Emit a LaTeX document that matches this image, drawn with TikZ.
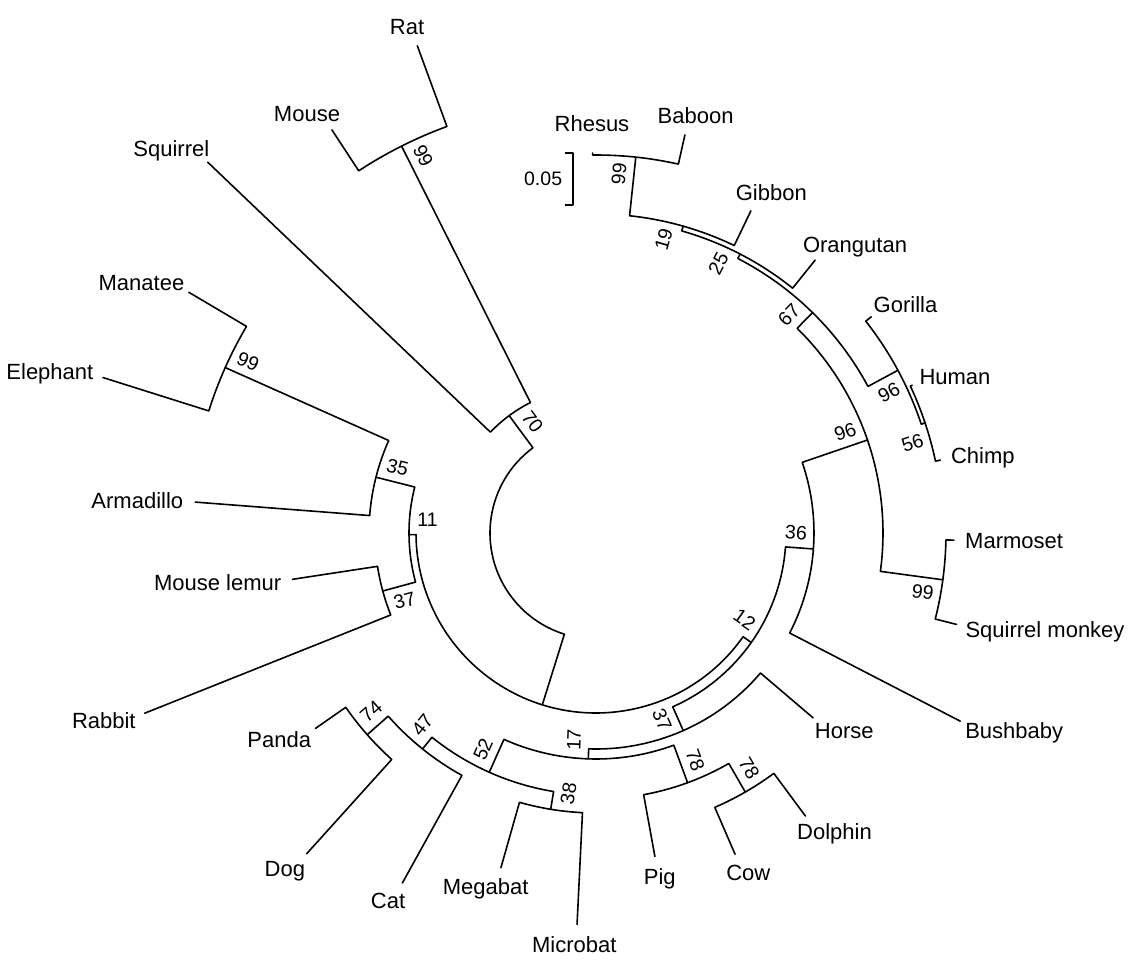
\documentclass[tikz,border=0pt]{standalone}
\usepackage{fontspec}
\setmainfont{Liberation Sans}
\usetikzlibrary{calc}

\begin{document}
\begin{tikzpicture}[x=1pt,y=1pt]
	\tikzstyle{branch}=[line width=1.6pt, line cap=round, line join=round]
	\tikzstyle{taxon}=[inner sep=0pt, font=\fontsize{22}{26}\selectfont]
	\tikzstyle{support}=[inner sep=0pt, font=\fontsize{19.5}{23}\selectfont]

	\useasboundingbox (-596,-443) rectangle (534,533);

	% Tips: name/angle/base radius/radius
	\foreach \n/\a/\b/\r in {Rhesus/90.5/378/380, Baboon/77.41/378/408,
		Gibbon/64.32/319/357.5, Orangutan/51.23/314/350, Gorilla/38.14/343/350,
		Human/25.05/347/349, Chimp/11.95/347/352, Marmoset/-1.14/350/358,
		SqMonkey/-14.23/350/372, Bushbaby/-27.32/218/410, Horse/-40.41/216/285,
		Dolphin/-53.5/299/352, Cow/-66.59/299/350, Pig/-79.68/266/329,
		Microbat/-92.77/280/392, Megabat/-105.86/280/348, Cat/-118.95/277/400,
		Dog/-132.05/305/432, Panda/-145.14/305/342, Rabbit/201.77/221/486,
		MouseLemur/188.68/221/307, Armadillo/175.59/227/402, Elephant/162.5/406/517,
		Manatee/149.41/406/473, Squirrel/136.32/146/537, Mouse/123.23/433/482,
		Rat/110.14/433/519}{
		\coordinate (\n-b) at (\a:\b);
		\coordinate (\n) at (\a:\r);
	}

	% Inner nodes: name/angle/base radius/radius
	\foreach \n/\a/\b/\r in {n99a/83.955/319/378, n19/74.14/314/319, n25/62.68/309/314,
		nHC/18.5/343/347, nG/28.32/309/343, n67/45.5/287/309, nNW/-7.685/287/350,
		n96b/18.91/218/287, n36/-4.205/190/218, nCD/-60.045/266/299, nP/-69.86/226/266,
		n38/-99.315/262/280, n74/-138.6/277/305, n47/-128.77/262/277, n52/-114.04/226/262,
		n17/-91.95/216/226, n37/-66.18/190/216, n12/-35.19/180/190, n37b/195.22/187/221,
		n99e/155.955/227/406, n35/165.77/187/227, n11/180.5/180/187, X/252.65/106/180,
		n99m/116.685/146/433, n70/126.5/106/146}{
		\coordinate (\n-b) at (\a:\b);
		\coordinate (\n) at (\a:\r);
	}

	%----------------------------------------------------%
	%        clades: child/angle/child/angle/radius       %
	%----------------------------------------------------%
	\foreach \c/\p/\d/\q/\r in {Rhesus/90.5/Baboon/77.41/378, n99a/83.955/Gibbon/64.32/319,
		n19/74.14/Orangutan/51.23/314, Human/25.05/Chimp/11.95/347,
		Gorilla/38.14/nHC/18.5/343, n25/62.68/nG/28.32/309,
		Marmoset/-1.14/SqMonkey/-14.23/350, n67/45.5/nNW/-7.685/287,
		n96b/18.91/Bushbaby/-27.32/218, Dolphin/-53.5/Cow/-66.59/299,
		nCD/-60.045/Pig/-79.68/266, Microbat/-92.77/Megabat/-105.86/280,
		Dog/-132.05/Panda/-145.14/305, Cat/-118.95/n74/-138.6/277,
		n38/-99.315/n47/-128.77/262, nP/-69.86/n52/-114.04/226,
		Horse/-40.41/n17/-91.95/216, n36/-4.205/n37/-66.18/190,
		Rabbit/201.77/MouseLemur/188.68/221, Elephant/162.5/Manatee/149.41/406,
		Armadillo/175.59/n99e/155.955/227, n37b/195.22/n35/165.77/187,
		n12/-35.19/n11/-179.5/180, Mouse/123.23/Rat/110.14/433,
		Squirrel/136.32/n99m/116.685/146, n70/126.5/X/252.65/106}
		\draw[branch] (\c) -- (\c-b) arc[start angle=\p, end angle=\q, radius=\r pt] -- (\d);

	% Taxon names: tip/angle/gap/name
	\foreach \n/\a/\g/\t in {Rhesus/90.5/22/Rhesus, Baboon/77.41/12/Baboon, Gibbon/64.32/12/Gibbon,
		Orangutan/51.23/12/Orangutan, Gorilla/38.14/12/Gorilla, Human/25.05/12/Human,
		Chimp/11.95/12/Chimp, Marmoset/-1.14/12/Marmoset, SqMonkey/-14.23/12/Squirrel monkey,
		Bushbaby/-27.32/12/Bushbaby, Horse/-40.41/12/Horse, Dolphin/-53.5/12/Dolphin,
		Cow/-66.59/12/Cow, Pig/-79.68/12/Pig, Microbat/-92.77/12/Microbat,
		Megabat/-105.86/12/Megabat, Cat/-118.95/12/Cat, Dog/-132.05/12/Dog,
		Panda/-145.14/12/Panda, Rabbit/201.77/12/Rabbit, MouseLemur/188.68/12/Mouse lemur,
		Armadillo/175.59/12/Armadillo, Elephant/162.5/12/Elephant, Manatee/149.41/12/Manatee,
		Squirrel/136.32/12/Squirrel, Mouse/123.23/12/Mouse, Rat/110.14/12/Rat}{
		\pgfmathsetmacro\fx{(1-cos(\a))/2}
		\pgfmathsetmacro\fy{(1-sin(\a))/2}
		\node[taxon, anchor=base east, yshift={-\fy*15.75pt}]
			(\n-l) at ($(\n)+(\a:\g)$) {\makebox[\fx\width][l]{\t}};
	}

	% Bootstrap values: node/angle/radius/side/value
	\foreach \n/\a/\r/\s/\t in {n99a/83.955/378/1/99, n19/74.14/319/1/19, n25/62.68/314/1/25,
		nHC/18.5/347/-1/56, nG/28.32/343/-1/96, n67/45.5/309/1/67, nNW/-7.685/350/-1/99,
		n96b/18.91/287/1/96, n36/-4.205/218/1/36, nCD/-60.045/299/1/78, nP/-69.86/266/1/78,
		n38/-99.315/280/1/38, n74/-138.6/305/-1/74, n47/-128.77/277/-1/47,
		n52/-114.04/262/-1/52, n17/-91.95/226/-1/17, n37/-66.18/216/-1/37,
		n12/-35.19/190/1/12, n37b/195.22/221/1/37, n99e/155.955/406/-1/99,
		n35/165.77/227/-1/35, n11/180.5/187/-1/11, n99m/116.685/433/-1/99,
		n70/126.5/146/-1/70}{
		\pgfmathsetmacro\la{\a+(\s)*15/(\r-18)*57.2958}
		\pgfmathsetmacro\lr{\r-18}
		\pgfmathsetmacro\rot{cos(\a)<0 ? \a+180 : \a}
		\node[support, rotate=\rot] (\n-l) at (\la:\lr) {\t};
	}

	% Scale bar
	\coordinate (bar-t) at (-22.7,379.7);
	\coordinate (bar-b) at (-22.7,328);
	\draw[branch, line cap=butt] ($(bar-t)+(-8,0)$) -- (bar-t) -- (bar-b) -- ($(bar-b)+(-8,0)$);
	\node[support, anchor=east] (bar-l) at ($(bar-t)!0.5!(bar-b)+(-11,0)$) {0.05};
\end{tikzpicture}
\end{document}
